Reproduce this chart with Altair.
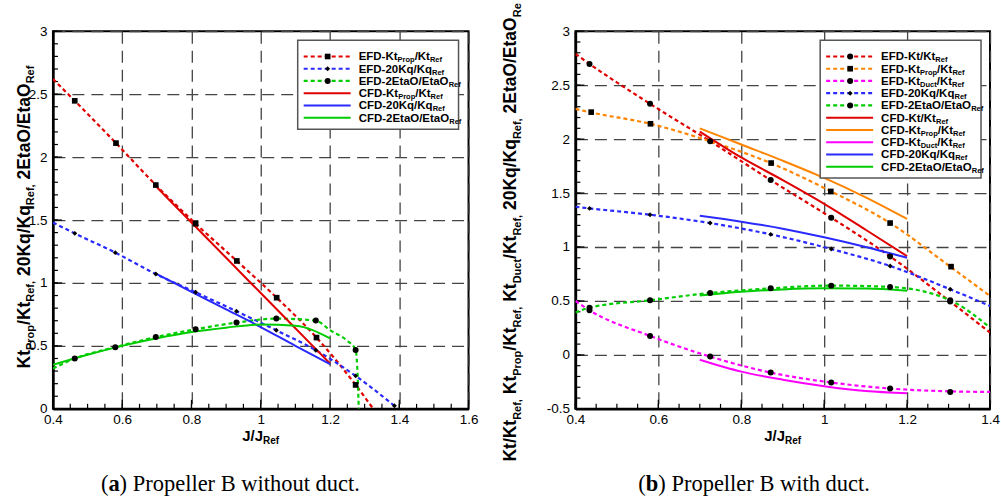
import altair as alt
import pandas as pd

# ======================= DATA =======================
# ---- panel (a): Propeller B without duct ----
A_X_TICKS = [0.4, 0.6, 0.8, 1.0, 1.2, 1.4, 1.6]
A_Y_TICKS = [0, 0.5, 1, 1.5, 2, 2.5, 3]

A_EFD_KTP_J = [0.463, 0.582, 0.697, 0.812, 0.931, 1.046, 1.161, 1.274]
A_EFD_KTP = [2.447, 2.111, 1.778, 1.471, 1.175, 0.883, 0.566, 0.190]
A_EFD_KQ_J = [0.463, 0.580, 0.697, 0.812, 0.930, 1.045, 1.159, 1.274, 1.386]
A_EFD_KQ = [1.394, 1.241, 1.071, 0.926, 0.775, 0.624, 0.466, 0.262, 0.024]
A_EFD_ETA_J = [0.463, 0.580, 0.697, 0.812, 0.930, 1.045, 1.159, 1.274]
A_EFD_ETA = [0.400, 0.490, 0.570, 0.632, 0.685, 0.717, 0.701, 0.468]

A_FIT_KTP_J = [0.400, 0.463, 0.582, 0.697, 0.812, 0.931, 1.046, 1.161, 1.274, 1.325]
A_FIT_KTP = [2.620, 2.447, 2.111, 1.778, 1.471, 1.175, 0.883, 0.566, 0.190, 0.000]
A_FIT_KQ_J = [0.400, 0.463, 0.580, 0.697, 0.812, 0.930, 1.045, 1.159, 1.274, 1.386]
A_FIT_KQ = [1.480, 1.394, 1.241, 1.071, 0.926, 0.775, 0.624, 0.466, 0.262, 0.024]
A_FIT_ETA_J = [0.400, 0.463, 0.580, 0.697, 0.812, 0.930, 1.045, 1.159, 1.200, 1.250, 1.274, 1.280, 1.283]
A_FIT_ETA = [0.320, 0.400, 0.490, 0.570, 0.632, 0.685, 0.717, 0.701, 0.625, 0.540, 0.468, 0.250, 0.000]

A_CFD_J = [0.70, 0.80, 0.90, 1.00, 1.10, 1.20]
A_CFD_KTP = [1.76, 1.48, 1.20, 0.92, 0.64, 0.36]
A_CFD_KQ = [1.07, 0.93, 0.79, 0.65, 0.50, 0.355]
A_CFD_ETA_J = [0.40, 0.50, 0.60, 0.70, 0.80, 0.90, 1.00, 1.10, 1.20]
A_CFD_ETA = [0.35, 0.43, 0.50, 0.56, 0.61, 0.645, 0.670, 0.660, 0.56]

# ---- panel (b): Propeller B with duct ----
B_X_TICKS = [0.4, 0.6, 0.8, 1.0, 1.2, 1.4]
B_Y_TICKS = [-0.5, 0, 0.5, 1, 1.5, 2, 2.5, 3]

B_EFD_J = [0.434, 0.580, 0.725, 0.871, 1.017, 1.159, 1.304]
B_EFD_KT = [2.697, 2.327, 1.981, 1.620, 1.272, 0.913, 0.494]
B_EFD_KTP_J = [0.438, 0.581, 0.872, 1.016, 1.159, 1.306]
B_EFD_KTP = [2.250, 2.142, 1.778, 1.515, 1.222, 0.818]
B_EFD_KTD = [0.413, 0.176, -0.016, -0.164, -0.256, -0.312, -0.343]
B_EFD_KQ = [1.358, 1.299, 1.222, 1.117, 0.981, 0.824, 0.608]
B_EFD_ETA = [0.438, 0.506, 0.574, 0.617, 0.642, 0.630, 0.506]

B_FIT_J = [0.400, 0.434, 0.580, 0.725, 0.871, 1.017, 1.159, 1.304, 1.400]
B_FIT_KT = [2.790, 2.697, 2.327, 1.981, 1.620, 1.272, 0.913, 0.494, 0.207]
B_FIT_KTP = [2.280, 2.250, 2.142, 1.980, 1.778, 1.515, 1.222, 0.818, 0.546]
B_FIT_KTD = [0.500, 0.413, 0.176, -0.016, -0.164, -0.256, -0.312, -0.338, -0.343]
B_FIT_KQ = [1.373, 1.358, 1.299, 1.222, 1.117, 0.981, 0.824, 0.608, 0.454]
B_FIT_ETA = [0.392, 0.438, 0.506, 0.574, 0.617, 0.642, 0.630, 0.506, 0.253]

B_CFD_J = [0.70, 0.80, 0.90, 1.00, 1.10, 1.20]
B_CFD_KT = [2.07, 1.83, 1.62, 1.40, 1.16, 0.915]
B_CFD_KTP = [2.10, 1.95, 1.80, 1.64, 1.46, 1.26]
B_CFD_KTD = [-0.045, -0.155, -0.230, -0.290, -0.335, -0.355]
B_CFD_KQ = [1.29, 1.235, 1.17, 1.09, 1.00, 0.90]
B_CFD_ETA = [0.55, 0.585, 0.607, 0.617, 0.615, 0.595]

# ---- texts ----
A_LEGEND = ["EFD-Kt_{Prop}/Kt_{Ref}", "EFD-20Kq/Kq_{Ref}", "EFD-2EtaO/EtaO_{Ref}",
            "CFD-Kt_{Prop}/Kt_{Ref}", "CFD-20Kq/Kq_{Ref}", "CFD-2EtaO/EtaO_{Ref}"]
B_LEGEND = ["EFD-Kt/Kt_{Ref}", "EFD-Kt_{Prop}/Kt_{Ref}", "EFD-Kt_{Duct}/Kt_{Ref}",
            "EFD-20Kq/Kq_{Ref}", "EFD-2EtaO/EtaO_{Ref}",
            "CFD-Kt/Kt_{Ref}", "CFD-Kt_{Prop}/Kt_{Ref}", "CFD-Kt_{Duct}/Kt_{Ref}",
            "CFD-20Kq/Kq_{Ref}", "CFD-2EtaO/EtaO_{Ref}"]
A_YTITLE = "Kt_{Prop}/Kt_{Ref,} 20Kq/Kq_{Ref,} 2EtaO/EtaO_{Ref}"
B_YTITLE = "Kt/Kt_{Ref,} Kt_{Prop}/Kt_{Ref,} Kt_{Duct}/Kt_{Ref,} 20Kq/Kq_{Ref,} 2EtaO/EtaO_{Re}"
XTITLE = "J/J_{Ref}"
A_CAPTION = ["(", "a", ")", "Propeller B without duct."]
B_CAPTION = ["(", "b", ")", "Propeller B with duct."]

RED, BLUE, GREEN, ORANGE, MAGENTA = "#e00000", "#2a2aff", "#00cc00", "#ff8400", "#ff00ff"
SIZES = {"square": 32, "circle": 36, "diamond": 24}

# ======================= helpers =======================
AW = {' ': 278, ',': 278, '-': 333, '/': 278, '0': 556, '2': 556, 'C': 722, 'D': 722,
      'E': 667, 'F': 611, 'J': 556, 'K': 722, 'O': 778, 'P': 667, 'R': 722, 'a': 556,
      'c': 556, 'e': 556, 'f': 333, 'o': 611, 'p': 611, 'q': 611, 'r': 389, 't': 333, 'u': 611}


def tw(s, fs):
    return sum(AW.get(c, 556) for c in s) * fs / 1000.0


def parse(markup):
    parts, buf, i = [], '', 0
    while i < len(markup):
        if markup.startswith('_{', i):
            if buf:
                parts.append((buf, False))
                buf = ''
            j = markup.index('}', i)
            parts.append((markup[i + 2:j], True))
            i = j + 1
        else:
            buf += markup[i]
            i += 1
    if buf:
        parts.append((buf, False))
    return parts


def layout(markup, fs, sfs):
    out, pos = [], 0.0
    for t, s in parse(markup):
        f = sfs if s else fs
        st = t.lstrip(' ')
        pos += tw(t[:len(t) - len(st)], f)
        out.append((st, s, f, pos))
        pos += tw(st, f)
    return out, pos


def htext(markup, x0, y0, fs, sfs, dy, center=False):
    items, total = layout(markup, fs, sfs)
    if center:
        x0 -= total / 2
    return [dict(px=x0 + o, py=y0 + (dy if s else 0), t=t, fs=f) for t, s, f, o in items]


def vtext(markup, xb, y0, fs, sfs, dx, mode):
    items, total = layout(markup, fs, sfs)
    ystart = y0 + total / 2 if mode == 'center' else y0 + total
    return [dict(px=xb + (dx if s else 0), py=ystart - o, t=t, fs=f) for t, s, f, o in items]


def text_layer(rows, angle=0, font='Liberation Sans', weight='bold'):
    return alt.Chart(pd.DataFrame(rows)).mark_text(
        align='left', baseline='alphabetic', font=font, fontWeight=weight,
        color='black', angle=angle).encode(
        x=alt.X('px:Q', scale=None, axis=None),
        y=alt.Y('py:Q', scale=None, axis=None),
        size=alt.Size('fs:Q', scale=None, legend=None),
        text='t:N')


def frange(a, b, step):
    n = int(round((b - a) / step))
    return [round(a + i * step, 4) for i in range(n + 1)]


def build_panel(P):
    w, h = P['w'], P['h']
    xs = alt.Scale(domain=P['xdom'], nice=False, zero=False)
    ys = alt.Scale(domain=P['ydom'], nice=False, zero=False)
    common = dict(title=None, grid=True, gridDash=[12, 7], gridColor='#444444', gridWidth=1.3,
                  ticks=False, tickSize=0, domain=True, domainColor='black', domainWidth=2.5,
                  labelFont='Liberation Sans', labelFontSize=13.5, labelColor='black',
                  labelExpr="'' + datum.value", labelOverlap=False, labelFlush=False)
    X = alt.X('J:Q', scale=xs, axis=alt.Axis(values=P['xticks'], labelPadding=4, **common))
    Y = alt.Y('v:Q', scale=ys, axis=alt.Axis(values=P['yticks'], labelPadding=6, **common))

    layers = []
    # inward ticks
    for vals, ln in ((P['xminor'], 5), (P['xticks'], 9)):
        layers.append(alt.Chart(pd.DataFrame({'J': vals})).mark_rule(color='black', strokeWidth=1.2)
                      .encode(x=X, y=alt.value(h), y2=alt.value(h - ln)))
    for vals, ln in ((P['yminor'], 5), (P['yticks'], 9)):
        layers.append(alt.Chart(pd.DataFrame({'v': vals})).mark_rule(color='black', strokeWidth=1.2)
                      .encode(y=Y, x=alt.value(0), x2=alt.value(ln)))

    fit_rows, pt_rows = [], []
    for k, (fj, fv, pj, pv, col, shp) in enumerate(P['efd']):
        fit_rows += [dict(J=a, v=b, s=k, col=col) for a, b in zip(fj, fv)]
        pt_rows += [dict(J=a, v=b, shp=shp, sz=SIZES[shp]) for a, b in zip(pj, pv)]
    cfd_rows = []
    for k, (cj, cv, col) in enumerate(P['cfd']):
        cfd_rows += [dict(J=a, v=b, s=k, col=col) for a, b in zip(cj, cv)]

    layers.append(alt.Chart(pd.DataFrame(fit_rows)).mark_line(
        strokeDash=[4, 3], strokeWidth=2.2, interpolate='monotone', clip=True).encode(
        x=X, y=Y, detail='s:N', color=alt.Color('col:N', scale=None)))
    layers.append(alt.Chart(pd.DataFrame(cfd_rows)).mark_line(
        strokeWidth=2, interpolate='monotone', clip=True).encode(
        x=X, y=Y, detail='s:N', color=alt.Color('col:N', scale=None)))
    layers.append(alt.Chart(pd.DataFrame(pt_rows)).mark_point(
        filled=True, color='black', opacity=1).encode(
        x=X, y=Y, shape=alt.Shape('shp:N', scale=None), size=alt.Size('sz:Q', scale=None, legend=None)))

    # legend
    L = P['legend']
    n = len(L)
    y0, dy = 25.3, 12.25
    layers.append(alt.Chart(pd.DataFrame({'a': [0]})).mark_rect(
        fill='white', stroke='#555555', strokeWidth=1.5).encode(
        x=alt.value(245), x2=alt.value(406), y=alt.value(9), y2=alt.value(y0 + (n - 1) * dy + 11.5)))
    rule_rows, mk_rows, txt_rows = [], [], []
    for i, (lab, col, dashed, shp) in enumerate(L):
        ry = y0 + i * dy
        rule_rows.append(dict(x1=251, x2=298, ly=ry, col=col, d=dashed))
        if shp:
            mk_rows.append(dict(px=275, py=ry, shp=shp, sz=SIZES[shp]))
        txt_rows += htext(lab, 306, ry + 4, 11.5, 7.5, 2)
    rdf = pd.DataFrame(rule_rows)
    for dashed in (True, False):
        sub = rdf[rdf['d'] == dashed]
        kw = dict(strokeDash=[4, 3], strokeWidth=2.2) if dashed else dict(strokeWidth=2)
        layers.append(alt.Chart(sub).mark_rule(**kw).encode(
            x=alt.X('x1:Q', scale=None, axis=None), x2='x2:Q',
            y=alt.Y('ly:Q', scale=None, axis=None), color=alt.Color('col:N', scale=None)))
    layers.append(alt.Chart(pd.DataFrame(mk_rows)).mark_point(filled=True, color='black', opacity=1).encode(
        x=alt.X('px:Q', scale=None, axis=None), y=alt.Y('py:Q', scale=None, axis=None),
        shape=alt.Shape('shp:N', scale=None), size=alt.Size('sz:Q', scale=None, legend=None)))
    layers.append(text_layer(txt_rows))

    # axis titles
    layers.append(text_layer(htext(XTITLE, w / 2, 410, 15, 10, 3.5, center=True)))
    layers.append(text_layer(vtext(P['ytitle'], P['ytx'], P['yty'], 17.5, 11, 4.5, P['ymode']), angle=270))

    # caption
    cf = 22.5
    c = P['caption']
    cx = P['capx']
    wid_open, wid_letter, wid_close = 0.333 * cf, (0.5 if c[1] == 'a' else 0.556) * cf, 0.333 * cf
    normal = [dict(px=cx, py=460, t=c[0], fs=cf),
              dict(px=cx + wid_open + wid_letter, py=460, t=c[2], fs=cf),
              dict(px=cx + wid_open + wid_letter + wid_close + 0.25 * cf, py=460, t=c[3], fs=cf)]
    bold = [dict(px=cx + wid_open, py=460, t=c[1], fs=cf)]
    layers.append(text_layer(normal, font='Liberation Serif', weight='normal'))
    layers.append(text_layer(bold, font='Liberation Serif', weight='bold'))

    if P.get('anchor'):
        layers.append(alt.Chart(pd.DataFrame({'a': [0]})).mark_rect(fill='white', strokeWidth=0).encode(
            x=alt.value(-52), x2=alt.value(-51), y=alt.value(-30), y2=alt.value(-29)))

    return alt.layer(*layers).properties(width=w, height=h)


PA = dict(
    w=416, h=378, xdom=[0.4, 1.6], ydom=[0, 3], xticks=A_X_TICKS, yticks=A_Y_TICKS,
    xminor=frange(0.4, 1.6, 0.05), yminor=frange(0, 3, 0.1),
    efd=[(A_FIT_KTP_J, A_FIT_KTP, A_EFD_KTP_J, A_EFD_KTP, RED, 'square'),
         (A_FIT_KQ_J, A_FIT_KQ, A_EFD_KQ_J, A_EFD_KQ, BLUE, 'diamond'),
         (A_FIT_ETA_J, A_FIT_ETA, A_EFD_ETA_J, A_EFD_ETA, GREEN, 'circle')],
    cfd=[(A_CFD_J, A_CFD_KTP, RED), (A_CFD_J, A_CFD_KQ, BLUE), (A_CFD_ETA_J, A_CFD_ETA, GREEN)],
    legend=[(A_LEGEND[0], RED, True, 'square'), (A_LEGEND[1], BLUE, True, 'diamond'),
            (A_LEGEND[2], GREEN, True, 'circle'), (A_LEGEND[3], RED, False, None),
            (A_LEGEND[4], BLUE, False, None), (A_LEGEND[5], GREEN, False, None)],
    ytitle=A_YTITLE, ytx=-23, yty=186, ymode='center',
    caption=A_CAPTION, capx=48, anchor=True)

PB = dict(
    w=415, h=378, xdom=[0.4, 1.4], ydom=[-0.5, 3], xticks=B_X_TICKS, yticks=B_Y_TICKS,
    xminor=frange(0.4, 1.4, 0.05), yminor=frange(-0.5, 3, 0.1),
    efd=[(B_FIT_J, B_FIT_KT, B_EFD_J, B_EFD_KT, RED, 'circle'),
         (B_FIT_J, B_FIT_KTP, B_EFD_KTP_J, B_EFD_KTP, ORANGE, 'square'),
         (B_FIT_J, B_FIT_KTD, B_EFD_J, B_EFD_KTD, MAGENTA, 'circle'),
         (B_FIT_J, B_FIT_KQ, B_EFD_J, B_EFD_KQ, BLUE, 'diamond'),
         (B_FIT_J, B_FIT_ETA, B_EFD_J, B_EFD_ETA, GREEN, 'circle')],
    cfd=[(B_CFD_J, B_CFD_KT, RED), (B_CFD_J, B_CFD_KTP, ORANGE), (B_CFD_J, B_CFD_KTD, MAGENTA),
         (B_CFD_J, B_CFD_KQ, BLUE), (B_CFD_J, B_CFD_ETA, GREEN)],
    legend=[(B_LEGEND[0], RED, True, 'circle'), (B_LEGEND[1], ORANGE, True, 'square'),
            (B_LEGEND[2], MAGENTA, True, 'circle'), (B_LEGEND[3], BLUE, True, 'diamond'),
            (B_LEGEND[4], GREEN, True, 'circle'), (B_LEGEND[5], RED, False, None),
            (B_LEGEND[6], ORANGE, False, None), (B_LEGEND[7], MAGENTA, False, None),
            (B_LEGEND[8], BLUE, False, None), (B_LEGEND[9], GREEN, False, None)],
    ytitle=B_YTITLE, ytx=-59, yty=-28, ymode='end',
    caption=B_CAPTION, capx=63)

chart = alt.hconcat(build_panel(PA), build_panel(PB), spacing=107, bounds='flush').properties(
    padding={"left": 0, "top": 0, "right": 0, "bottom": 0}
).configure_view(stroke='black', strokeWidth=2)

chart.save("out.html", embed_options={"renderer": "svg", "actions": False})
